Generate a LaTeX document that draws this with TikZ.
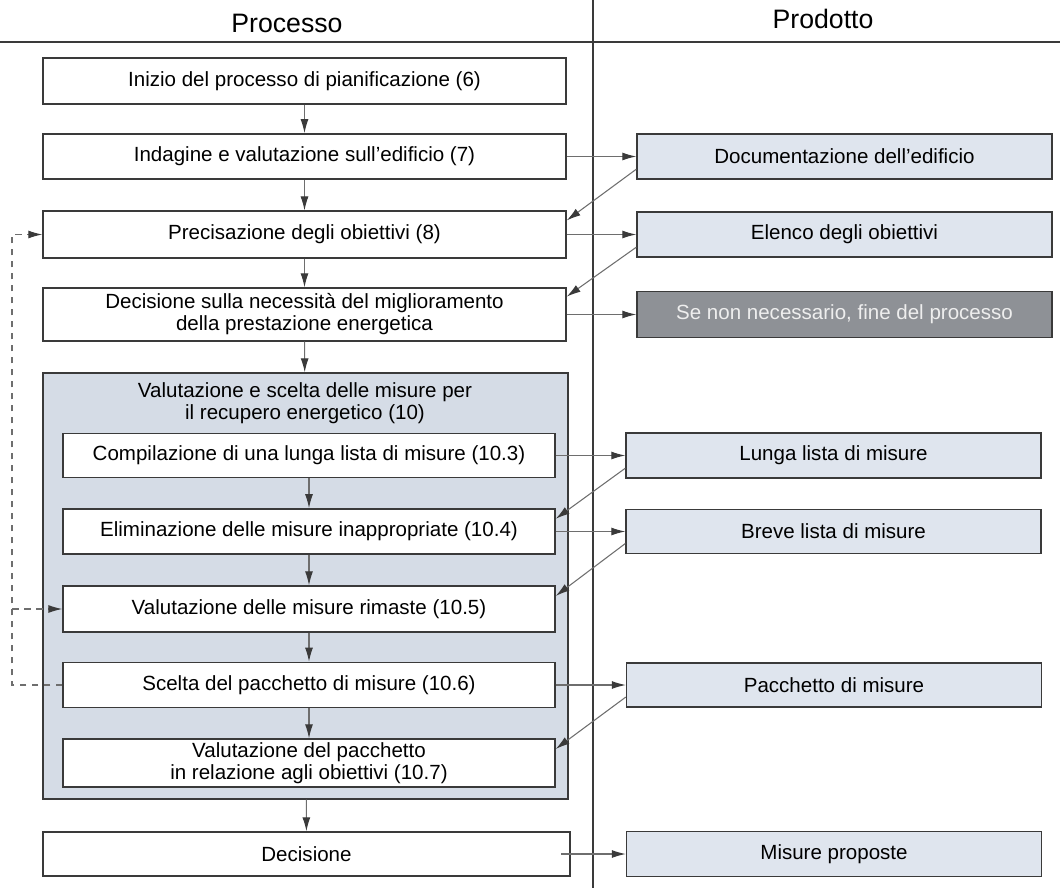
\documentclass[tikz,border=0pt]{standalone}
\usepackage{fontspec}
\setmainfont{Liberation Sans}
\usetikzlibrary{arrows.meta, positioning}

\definecolor{linegray}{HTML}{3A3A3A}
\definecolor{arrowgray}{HTML}{6E6E6E}
\definecolor{prodfill}{HTML}{DFE5EE}
\definecolor{outerfill}{HTML}{D5DCE6}
\definecolor{endfill}{HTML}{8E9196}
\definecolor{endtext}{HTML}{EEEEEE}

\newcommand{\boxfont}{\fontsize{15.4}{16.5}\selectfont}
\newcommand{\headfont}{\fontsize{20}{24}\selectfont}

\tikzstyle{proc} = [rectangle, draw=linegray, line width=1.1pt, fill=white, minimum width=392.25pt, minimum height=34pt, inner sep=0pt, align=center, font=\boxfont]
\tikzstyle{procin} = [proc, minimum width=369pt]
\tikzstyle{prod} = [rectangle, draw=linegray, line width=1.1pt, fill=prodfill, minimum width=311.25pt, minimum height=34pt, inner sep=0pt, align=center, font=\boxfont]
\tikzstyle{prodend} = [prod, fill=endfill, text=endtext]
\tikzstyle{arrow} = [draw=arrowgray, line width=0.8pt, -{Latex[length=10.5pt,width=6pt,color=linegray]}]
\tikzstyle{feedback} = [arrow, dash pattern=on 5pt off 4pt]

\begin{document}
\begin{tikzpicture}[x=0.75pt, y=-0.75pt]
\useasboundingbox (0,0) rectangle (1060,888);

% colonne
\node (headproc) [font=\headfont] at (287,23) {Processo};
\node (headprod) [font=\headfont] at (823,19) {Prodotto};
\draw [linegray, line width=1pt] (0,42) -- (1060,42);
\draw [linegray, line width=1pt] (593,0) -- (593,888);

% processo
\node (b1) [proc, minimum height=34.5pt] at (304.5,81) {Inizio del processo di pianificazione (6)};
\node (b2) [proc] at (304.5,156.5) {Indagine e valutazione sull'edificio (7)};
\node (b3) [proc, minimum height=35pt] at (304.5,234.5) {Precisazione degli obiettivi (8)};
\node (b4) [proc, minimum height=39.75pt] at (304.5,314.5) {Decisione sulla necessità del miglioramento\\della prestazione energetica};

\node (valuta) [rectangle, draw=linegray, line width=1.1pt, fill=outerfill, minimum width=393.75pt, minimum height=319.5pt] at (305.5,586) {};
\node (valutaT) [font=\boxfont, align=center] at (305,403) {Valutazione e scelta delle misure per\\il recupero energetico (10)};

\node (b5) [procin, minimum height=33pt] at (309,455.5) {Compilazione di una lunga lista di misure (10.3)};
\node (b6) [procin] at (309,531.5) {Eliminazione delle misure inappropriate (10.4)};
\node (b7) [procin, minimum height=34.5pt] at (309,609) {Valutazione delle misure rimaste (10.5)};
\node (b8) [procin] at (309,685) {Scelta del pacchetto di misure (10.6)};
\node (b9) [procin, minimum height=36pt] at (309,763) {Valutazione del pacchetto\\in relazione agli obiettivi (10.7)};

\node (b10) [proc, minimum width=395.25pt, minimum height=33pt] at (306.5,854) {Decisione};

% prodotto
\node (r1) [prod] at (844.5,156.5) {Documentazione dell'edificio};
\node (r2) [prod] at (844.5,234.5) {Elenco degli obiettivi};
\node (r3) [prodend, minimum height=34.5pt] at (844.5,314.5) {Se non necessario, fine del processo};
\node (r4) [prod] at (833.5,455.5) {Lunga lista di misure};
\node (r5) [prod, minimum height=33pt] at (833.5,531.5) {Breve lista di misure};
\node (r6) [prod, minimum height=33pt] at (834,685) {Pacchetto di misure};
\node (r7) [prod] at (834,854) {Misure proposte};

% flusso verticale
\draw [arrow] (b1) -- (b2);
\draw [arrow] (b2) -- (b3);
\draw [arrow] (b3) -- (b4);
\draw [arrow] (b4) -- (valuta);
\draw [arrow] (b5) -- (b6);
\draw [arrow] (b6) -- (b7);
\draw [arrow] (b7) -- (b8);
\draw [arrow] (b8) -- (b9);
\draw [arrow] (valuta) -- (b10);

% verso i prodotti
\draw [arrow] (b2.east) -- (r1.west);
\draw [arrow] (b3.east) -- (r2.west);
\draw [arrow] (b4.east) -- (r3.west);
\draw [arrow] (b5.east) -- (r4.west);
\draw [arrow] (b6.east) -- (r5.west);
\draw [arrow] (b8.east) -- (r6.west);
\draw [arrow] ([xshift=-7pt]b10.east) -- (r7.west);

% dai prodotti
\draw [arrow] ([yshift=8pt]r1.south west) -- ([yshift=-7.5pt]b3.north east);
\draw [arrow] ([yshift=8pt]r2.south west) -- ([yshift=-7pt]b4.north east);
\draw [arrow] ([yshift=8pt]r4.south west) -- ([yshift=-8pt]b6.north east);
\draw [arrow] ([yshift=8pt]r5.south west) -- ([yshift=-8pt]b7.north east);
\draw [arrow] ([yshift=8pt]r6.south west) -- ([yshift=-8pt]b9.north east);

% ritorno
\coordinate (fb) at (12,0);
\draw [feedback] (b8.west) -- (b8.west -| fb) |- (b3.west);
\draw [feedback] (b7.west -| fb) -- (b7.west);

\end{tikzpicture}
\end{document}
